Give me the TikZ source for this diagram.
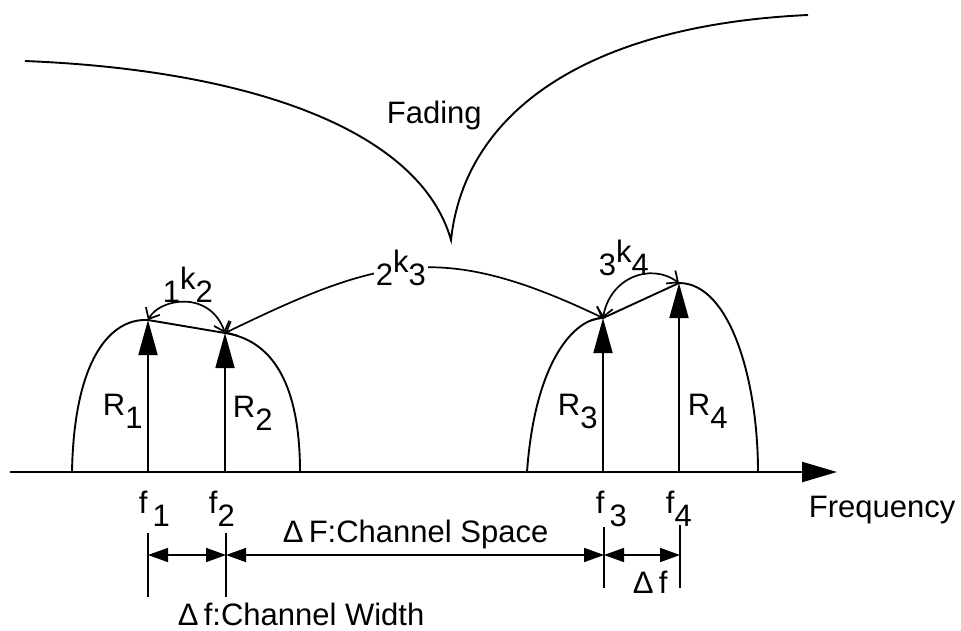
\documentclass[tikz,border=0pt]{standalone}
\usepackage{fontspec}
\setmainfont{Liberation Sans}
\usetikzlibrary{arrows.meta}
\newcommand\dnx[1]{\raisebox{-0.42em}{#1}}
\newcommand\upx[1]{\raisebox{0.4em}{#1}}
\begin{document}
\begin{tikzpicture}[x=1pt,y=-1pt,line width=1.9pt,
  font=\fontsize{31}{35}\selectfont,
  lbl/.style={inner sep=0pt,anchor=base west},
  rarrow/.style={-{Triangle[length=35pt,width=19pt]},line width=1.7pt},
  karrow/.style={{Straight Barb[length=9pt,width=16pt]}-{Straight Barb[length=9pt,width=16pt]},line width=1.7pt},
  dimarrow/.style={{Triangle[length=20pt,width=14pt]}-{Triangle[length=20pt,width=14pt]},line width=1.7pt},
  tick/.style={line width=1.7pt}]
\useasboundingbox (0,0) rectangle (961,630);

% axis
\coordinate (ax0) at (10,472);
\coordinate (ax1) at (837,472);
\draw[line width=2.2pt,-{Triangle[length=35pt,width=20pt]}] (ax0) -- (ax1);
\node[lbl] (freq) at (808,517) {Frequency};

% fading curve
\coordinate (fa) at (25,61);
\coordinate (fc) at (451,240);
\coordinate (fb) at (808,15);
\draw (fa) .. controls (250,70) and (420,130) .. (fc)
           .. controls (465,110) and (590,25) .. (fb);
\node[lbl] (fading) at (386,123) {Fading};

% base and tip coordinates
\coordinate (b1) at (148,472); \coordinate (t1) at (148,320);
\coordinate (b2) at (225,472); \coordinate (t2) at (225,333);
\coordinate (b3) at (603,472); \coordinate (t3) at (603,318);
\coordinate (b4) at (679,472); \coordinate (t4) at (679,283);

% bumps
\draw (72,472) .. controls (74,360) and (110,318) .. (t1) -- (t2)
      .. controls (270,340) and (300,380) .. (300,472);
\draw (527,472) .. controls (535,360) and (575,318) .. (t3) -- (t4)
      .. controls (730,283) and (758,380) .. (758,472);

% R arrows
\draw[rarrow] (b1) -- (t1);
\draw[rarrow] (b2) -- (t2);
\draw[rarrow] (b3) -- (t3);
\draw[rarrow] (b4) -- (t4);
\node[lbl] (r1) at (102,415) {R\dnx{1}};
\node[lbl] (r2) at (232,417) {R\dnx{2}};
\node[lbl] (r3) at (557,415) {R\dnx{3}};
\node[lbl] (r4) at (687,415) {R\dnx{4}};

% coupling arcs
\draw[karrow] (t2) .. controls (210,290) and (160,298) .. (t1);
\draw[karrow] (t2) .. controls (380,258) and (440,240) .. (t3);
\draw[karrow] (t3) .. controls (610,278) and (650,262) .. (t4);
\node[lbl] (k12) at (162,302) {1\upx{k}2};
\node[lbl,fill=white,inner sep=2pt] (k23) at (373,285) {2\upx{k}3};
\node[lbl] (k34) at (598,275) {3\upx{k}4};

% frequency labels
\node[lbl] (f1) at (138,513) {f\,\dnx{1}};
\node[lbl] (f2) at (208,513) {f\dnx{2}};
\node[lbl] (f3) at (595,513) {f\,\dnx{3}};
\node[lbl] (f4) at (665,513) {f\dnx{4}};

% ticks
\coordinate (u1) at (148,533); \coordinate (l1) at (148,597);
\coordinate (u2) at (226,533); \coordinate (l2) at (226,597);
\coordinate (u3) at (604,527); \coordinate (l3) at (604,588);
\coordinate (u4) at (680,525); \coordinate (l4) at (680,588);
\draw[tick] (u1) -- (l1);
\draw[tick] (u2) -- (l2);
\draw[tick] (u3) -- (l3);
\draw[tick] (u4) -- (l4);

% dimension arrows
\coordinate (d1) at (148,555);
\coordinate (d2) at (226,555);
\coordinate (d3) at (604,555);
\coordinate (d4) at (680,555);
\draw[dimarrow] (d1) -- (d2);
\draw[dimarrow] (d2) -- (d3);
\draw[dimarrow] (d3) -- (d4);
\node[lbl] (cspace) at (282,542) {Δ\,F:Channel Space};
\node[lbl] (cwidth) at (177,625) {Δ\,f:Channel Width};
\node[lbl] (df) at (632,593) {Δ\,f};
\end{tikzpicture}
\end{document}
